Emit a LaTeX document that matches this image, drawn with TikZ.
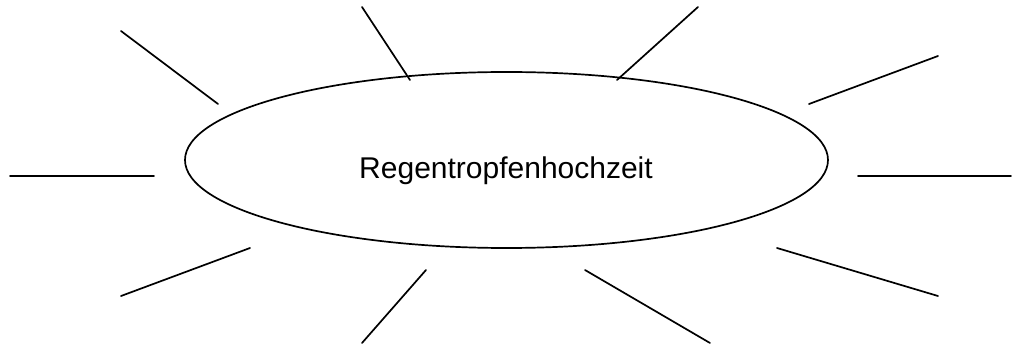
\documentclass[tikz,border=0pt]{standalone}
\usepackage{fontspec}
\setmainfont{Liberation Sans}
\begin{document}
\begin{tikzpicture}[x=1pt,y=-1pt,
  ray/.style={line width=1.7pt, line cap=round},
  oval/.style={line width=1.7pt}]
\useasboundingbox (0,0) rectangle (1012,347);
\draw[oval] (506.5,160) ellipse [x radius=321.5, y radius=88];
\node[inner sep=0pt, anchor=base] (t) at (506,179) {\fontsize{30}{36}\selectfont Regentropfenhochzeit};
\coordinate (a1) at (121,31); \coordinate (b1) at (218,104);
\coordinate (a2) at (362,7);  \coordinate (b2) at (410,80);
\coordinate (a3) at (698,7);  \coordinate (b3) at (617,80);
\coordinate (a4) at (938,56); \coordinate (b4) at (809,104);
\coordinate (a5) at (10,176); \coordinate (b5) at (154,176);
\coordinate (a6) at (858,176); \coordinate (b6) at (1011,176);
\coordinate (a7) at (121,296); \coordinate (b7) at (250,248);
\coordinate (a8) at (362,343); \coordinate (b8) at (426,270);
\coordinate (a9) at (585,270); \coordinate (b9) at (710,343);
\coordinate (a10) at (777,248); \coordinate (b10) at (938,296);
\foreach \i in {1,...,10} \draw[ray] (a\i) -- (b\i);
\end{tikzpicture}
\end{document}
